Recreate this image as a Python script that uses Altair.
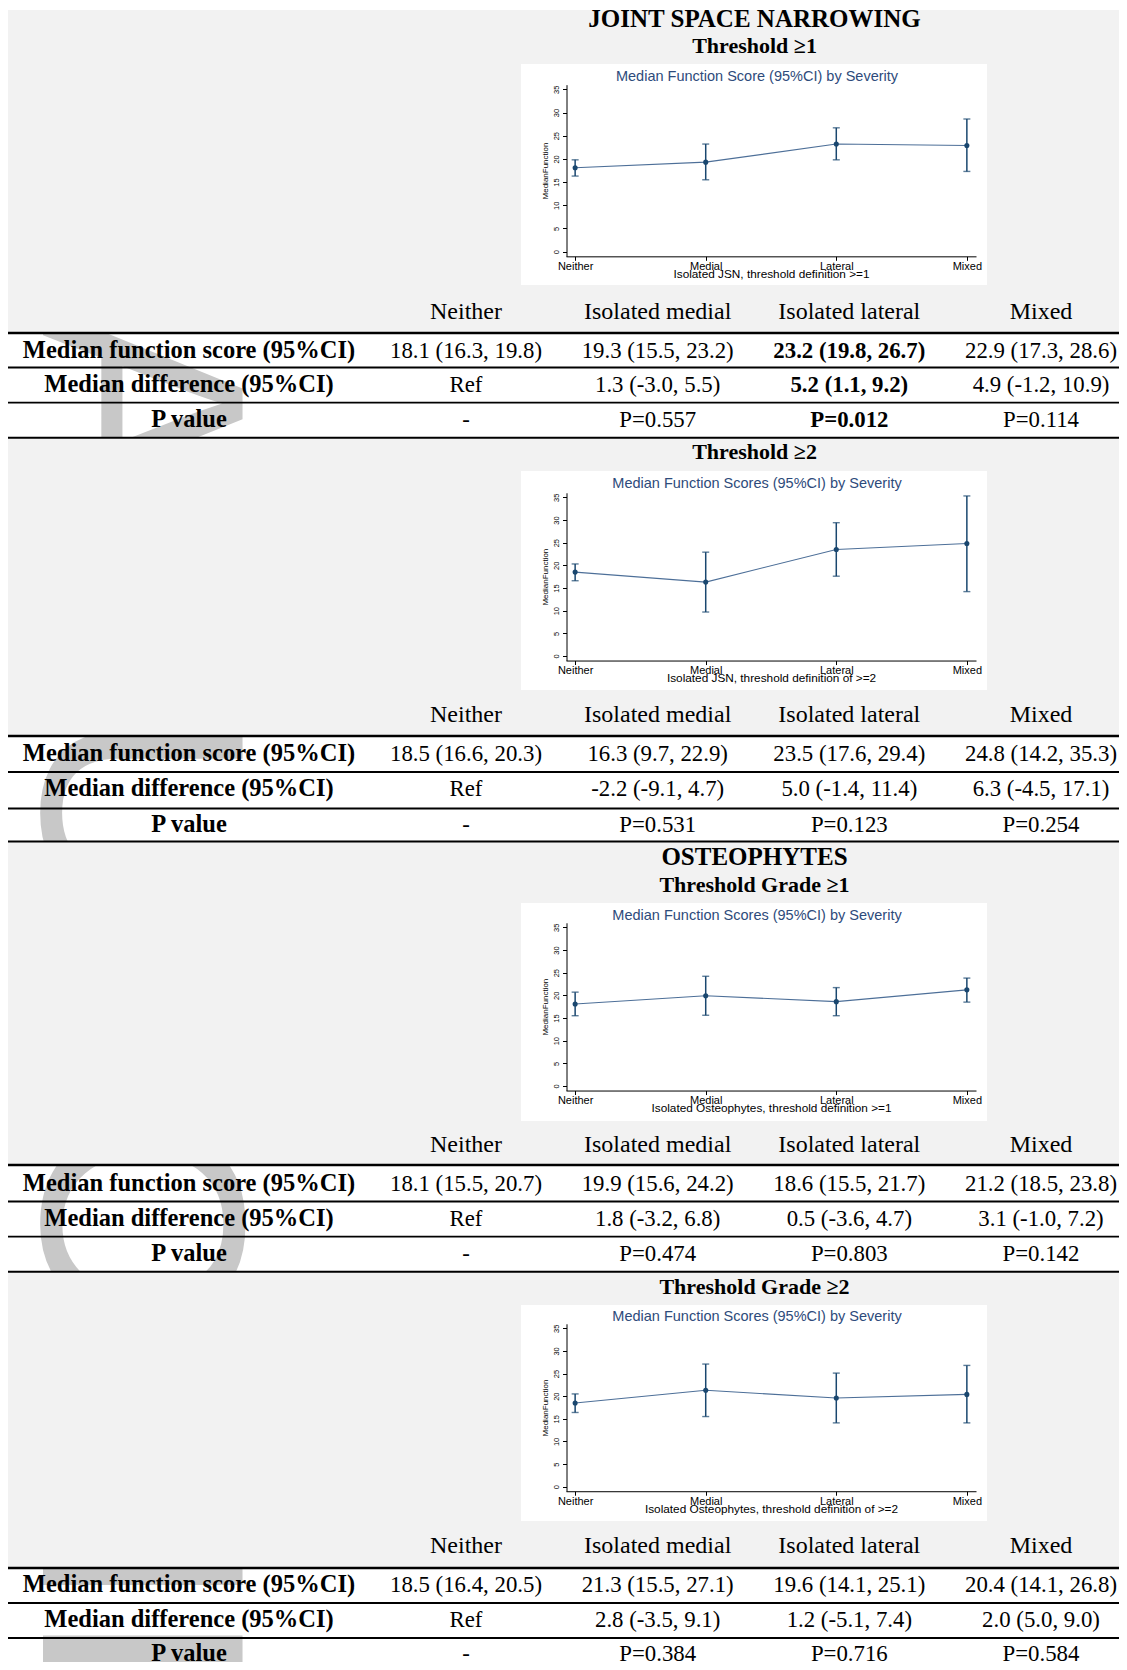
import altair as alt
import pandas as pd

# ---------------- data ----------------
CATS = ["Neither", "Medial", "Lateral", "Mixed"]
COLS = ["Neither", "Isolated medial", "Isolated lateral", "Mixed"]
ROW_LABELS = ["Median function score (95%CI)", "Median difference (95%CI)", "P value"]
Y_TICKS = [0, 5, 10, 15, 20, 25, 30, 35]

SECTION_HEADS = [
    ["JOINT SPACE NARROWING", "Threshold \u22651"],
    ["Threshold \u22652"],
    ["OSTEOPHYTES", "Threshold Grade \u22651"],
    ["Threshold Grade \u22652"],
]
PLOT_TITLES = [
    "Median Function Score (95%CI) by Severity",
    "Median Function Scores (95%CI) by Severity",
    "Median Function Scores (95%CI) by Severity",
    "Median Function Scores (95%CI) by Severity",
]
X_TITLES = [
    "Isolated JSN, threshold definition >=1",
    "Isolated JSN, threshold definition of >=2",
    "Isolated Osteophytes, threshold definition >=1",
    "Isolated Osteophytes, threshold definition of >=2",
]

JSN1_MED = [18.1, 19.3, 23.2, 22.9]
JSN1_LO = [16.3, 15.5, 19.8, 17.3]
JSN1_HI = [19.8, 23.2, 26.7, 28.6]
JSN1_DIFF = ["Ref", "1.3 (-3.0, 5.5)", "5.2 (1.1, 9.2)", "4.9 (-1.2, 10.9)"]
JSN1_P = ["-", "P=0.557", "P=0.012", "P=0.114"]
JSN1_BOLD = [False, False, True, False]

JSN2_MED = [18.5, 16.3, 23.5, 24.8]
JSN2_LO = [16.6, 9.7, 17.6, 14.2]
JSN2_HI = [20.3, 22.9, 29.4, 35.3]
JSN2_DIFF = ["Ref", "-2.2 (-9.1, 4.7)", "5.0 (-1.4, 11.4)", "6.3 (-4.5, 17.1)"]
JSN2_P = ["-", "P=0.531", "P=0.123", "P=0.254"]
JSN2_BOLD = [False, False, False, False]

OST1_MED = [18.1, 19.9, 18.6, 21.2]
OST1_LO = [15.5, 15.6, 15.5, 18.5]
OST1_HI = [20.7, 24.2, 21.7, 23.8]
OST1_DIFF = ["Ref", "1.8 (-3.2, 6.8)", "0.5 (-3.6, 4.7)", "3.1 (-1.0, 7.2)"]
OST1_P = ["-", "P=0.474", "P=0.803", "P=0.142"]
OST1_BOLD = [False, False, False, False]

OST2_MED = [18.5, 21.3, 19.6, 20.4]
OST2_LO = [16.4, 15.5, 14.1, 14.1]
OST2_HI = [20.5, 27.1, 25.1, 26.8]
OST2_DIFF = ["Ref", "2.8 (-3.5, 9.1)", "1.2 (-5.1, 7.4)", "2.0 (5.0, 9.0)"]
OST2_P = ["-", "P=0.384", "P=0.716", "P=0.584"]
OST2_BOLD = [False, False, False, False]

WATERMARK = ["MANUSCRIPT"]

SECTIONS = [
    (JSN1_MED, JSN1_LO, JSN1_HI, JSN1_DIFF, JSN1_P, JSN1_BOLD),
    (JSN2_MED, JSN2_LO, JSN2_HI, JSN2_DIFF, JSN2_P, JSN2_BOLD),
    (OST1_MED, OST1_LO, OST1_HI, OST1_DIFF, OST1_P, OST1_BOLD),
    (OST2_MED, OST2_LO, OST2_HI, OST2_DIFF, OST2_P, OST2_BOLD),
]

# ---------------- layout (page pixels) ----------------
W, H = 1111, 1654
OX, OY = 8, 8
SERIF = "Liberation Serif"
SANS = "Liberation Sans"
GRAY = "#f2f2f2"
NAVY = "#1a476f"

LAYOUT = [
    dict(gray=(10, 333), heads=[(18.5, 25), (46, 22)], box=(64, 285), ptitle=77,
         y35=89.3, y0=251.7, header=312, rows=(350.5, 420),
         lines=[(333, 2.6), (367.5, 1.8), (402.6, 1.8), (437.8, 2.0)]),
    dict(gray=(437.8, 736), heads=[(452, 22)], box=(471, 690), ptitle=484,
         y35=497.3, y0=656, header=714.8, rows=(754.2, 824.5),
         lines=[(736, 2.6), (772, 1.8), (808.5, 1.8), (841.5, 2.0)]),
    dict(gray=(841.5, 1165), heads=[(856.5, 25), (885, 22)], box=(903, 1121), ptitle=916,
         y35=927.3, y0=1086, header=1145, rows=(1183.5, 1253.5),
         lines=[(1165, 2.6), (1201.5, 1.8), (1236.7, 1.8), (1271.8, 2.0)]),
    dict(gray=(1271.8, 1568), heads=[(1287, 22)], box=(1305, 1521), ptitle=1317,
         y35=1328.3, y0=1486.7, header=1545.6, rows=(1585, 1654),
         lines=[(1568, 2.6), (1603, 1.8), (1638, 1.8)]),
]

ONE = pd.DataFrame({"k": [0]})


def rect(x1, x2, y1, y2, color):
    return alt.Chart(ONE).mark_rect(color=color).encode(
        x=alt.value(x1 - OX), x2=alt.value(x2 - OX),
        y=alt.value(y1 - OY), y2=alt.value(y2 - OY))


def hline(y, width):
    return alt.Chart(ONE).mark_rule(color="black", strokeWidth=width).encode(
        x=alt.value(0), x2=alt.value(W), y=alt.value(y - OY))


def label(text, x, y, size, weight="normal", font=SERIF, color="black"):
    return alt.Chart(pd.DataFrame({"t": [text]})).mark_text(
        font=font, fontSize=size, fontWeight=weight, color=color,
        align="center", baseline="middle").encode(
        x=alt.value(x - OX), y=alt.value(y - OY), text="t:N")


def plot_layer(i, med, lo, hi, L):
    df = pd.DataFrame({"cat": CATS, "med": med, "lo": lo, "hi": hi})
    k = (L["y0"] - L["y35"]) / 35.0
    ybot = L["y0"] + k - OY
    ytop = L["y35"] - k - OY
    xs = alt.Scale(type="point", domain=CATS, range=[566 - OX, 976 - OX], padding=0.07)
    ys = alt.Scale(domain=[-1, 36], range=[ybot, ytop], nice=False, zero=False)
    xaxis = alt.Axis(orient="bottom", offset=ybot - H, title=X_TITLES[i], zindex=2,
                     labelFont=SANS, labelFontSize=11, labelPadding=0, labelAngle=0,
                     tickSize=4, tickColor="black", domainColor="black",
                     labelColor="black", titleFont=SANS, titleFontSize=11.8,
                     titleFontWeight="normal", titleColor="black", titlePadding=-3,
                     grid=False)
    yaxis = alt.Axis(orient="left", offset=-(566.5 - OX), values=Y_TICKS, zindex=2,
                     title="MedianFunction", labelFont=SANS, labelFontSize=7.5,
                     labelAngle=270, labelAlign="center", labelBaseline="bottom",
                     labelPadding=2, tickSize=4, tickColor="black",
                     domainColor="black", labelColor="black", titleFont=SANS,
                     titleFontSize=8, titleFontWeight="normal", titleColor="black",
                     titlePadding=3, grid=False)
    X = alt.X("cat:N", scale=xs, axis=xaxis, sort=CATS)

    def Y(f):
        return alt.Y(f + ":Q", scale=ys, axis=yaxis)

    base = alt.Chart(df)
    line = base.mark_line(color="#4d6f98", strokeWidth=1.1).encode(x=X, y=Y("med"))
    rule = base.mark_rule(color=NAVY, strokeWidth=1.5).encode(x=X, y=Y("lo"), y2="hi:Q")
    tlo = base.mark_tick(color=NAVY, orient="horizontal", size=7, thickness=1.4).encode(x=X, y=Y("lo"))
    thi = base.mark_tick(color=NAVY, orient="horizontal", size=7, thickness=1.4).encode(x=X, y=Y("hi"))
    pt = base.mark_circle(color=NAVY, size=26, opacity=1).encode(x=X, y=Y("med"))
    return alt.layer(line, rule, tlo, thi, pt)


def table_layers(i, med, lo, hi, diff, p, bold, L):
    score = [f"{m:.1f} ({a:.1f}, {b:.1f})" for m, a, b in zip(med, lo, hi)]
    recs = []
    for j, c in enumerate(COLS):
        recs.append(dict(col=c, row="r1", text=score[j], bold=bold[j]))
        recs.append(dict(col=c, row="r2", text=diff[j], bold=bold[j]))
        recs.append(dict(col=c, row="r3", text=p[j], bold=bold[j]))
    df = pd.DataFrame(recs)
    hdf = pd.DataFrame({"col": COLS, "text": COLS})
    ldf = pd.DataFrame({"row": ["r1", "r2", "r3"], "text": ROW_LABELS})
    rowkeys = ["r1", "r2", "r3"]
    xs = alt.Scale(type="point", domain=COLS, range=[466 - OX, 1041 - OX], padding=0)
    ys = alt.Scale(type="point", domain=rowkeys, range=[L["rows"][0] - OY, L["rows"][1] - OY], padding=0)
    X = alt.X("col:N", scale=xs, axis=None, sort=COLS)
    Yr = alt.Y("row:N", scale=ys, axis=None, sort=rowkeys)
    reg = alt.Chart(df).transform_filter("!datum.bold").mark_text(
        font=SERIF, fontSize=22.8, align="center", baseline="middle", color="black"
    ).encode(x=X, y=Yr, text="text:N")
    bld = alt.Chart(df).transform_filter("datum.bold").mark_text(
        font=SERIF, fontSize=22.8, fontWeight="bold", align="center", baseline="middle", color="black"
    ).encode(x=X, y=Yr, text="text:N")
    labs = alt.Chart(ldf).mark_text(
        font=SERIF, fontSize=24.5, fontWeight="bold", align="center", baseline="middle", color="black"
    ).encode(x=alt.value(189 - OX), y=Yr, text="text:N")
    head = alt.Chart(hdf).mark_text(
        font=SERIF, fontSize=24, align="center", baseline="middle", color="black"
    ).encode(x=X, y=alt.value(L["header"] - OY), text="text:N")
    return [alt.layer(reg, bld, labs), head]


layers = []
# watermark (covered by the gray bands)
layers.append(alt.Chart(pd.DataFrame({"t": WATERMARK})).mark_text(
    font=SANS, fontSize=290, angle=90, color="#c8c8c8", align="left",
    baseline="alphabetic").encode(x=alt.value(43 - OX), y=alt.value(65 - OY), text="t:N"))

for i, L in enumerate(LAYOUT):
    layers.append(rect(0, W + OX, L["gray"][0], L["gray"][1], GRAY))
for i, L in enumerate(LAYOUT):
    layers.append(rect(521, 987, L["box"][0], L["box"][1], "white"))
    for (yy, ww) in L["lines"]:
        layers.append(hline(yy, ww))
    for (txt, (yy, sz)) in zip(SECTION_HEADS[i], L["heads"]):
        layers.append(label(txt, 754.5, yy, sz, weight="bold"))
    layers.append(label(PLOT_TITLES[i], 757, L["ptitle"], 14.5, font=SANS, color="#2e4b7b"))
    med, lo, hi, diff, p, bold = SECTIONS[i]
    layers.append(plot_layer(i, med, lo, hi, L))
    layers.extend(table_layers(i, med, lo, hi, diff, p, bold, L))

chart = alt.layer(*layers).resolve_scale(x="independent", y="independent").properties(
    width=W, height=H, padding=0, autosize=alt.AutoSizeParams(type="none"),
    background="white",
).configure_view(stroke=None)

chart.save("out.html", embed_options={"renderer": "svg", "actions": False})
